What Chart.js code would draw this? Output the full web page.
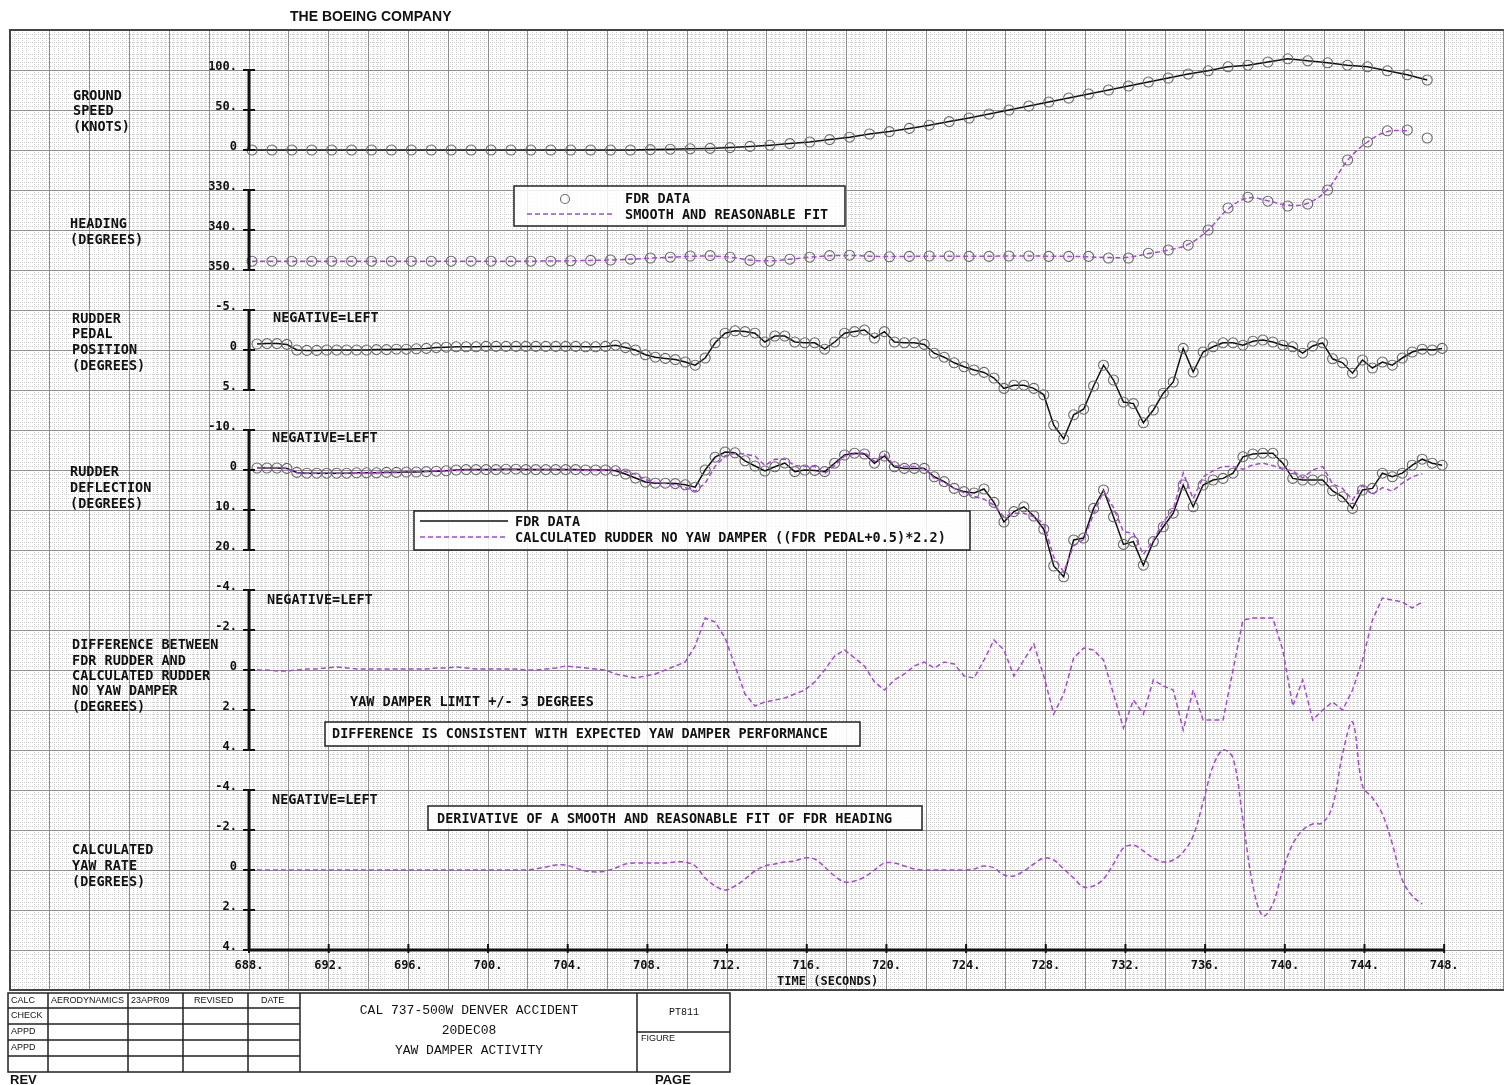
<!DOCTYPE html>
<html>
<head>
<meta charset="utf-8">
<title>CAL 737-500W Denver accident - yaw damper activity</title>
<script src="https://cdn.jsdelivr.net/npm/chart.js@4.4.1/dist/chart.umd.min.js"></script>
<style>
  html, body { margin: 0; padding: 0; background: #fff; }
  #wrap { position: relative; width: 1510px; height: 1085px; }
</style>
</head>
<body>
<div id="wrap"><canvas id="chart" width="1510" height="1085"></canvas></div>
<script>
// Sampling: FDR ground speed and heading every 1 s, rudder channels every 0.5 s
const SPEED_T0 = 688.15;
const HEADING_T0 = 688.15;
const RUDDER_T0 = 688.4;

// Ground speed (knots), FDR
const groundSpeed = [
  0, 0, 0, 0, 0, 0, 0, 0, 0, 0, 0, 0, 0, 0, 0, 0, 0, 0, 0, 0,
  0.5, 1, 1.5, 2, 3, 4.5, 6, 8, 10, 13, 16, 20, 23, 27, 31, 35.5,
  40, 45, 50, 55, 60, 65, 70, 75, 80, 85, 90, 95, 99, 104, 106, 110,
  114, 111.5, 109, 106, 104, 99, 94, 87.5
];

// Heading (degrees), FDR points and smooth fit
const headingFdr = [
  347.8, 347.8, 347.8, 347.8, 347.8, 347.8, 347.8, 347.8, 347.8, 347.8,
  347.8, 347.8, 347.8, 347.8, 347.8, 347.8, 347.7, 347.6, 347.5, 347.3,
  347.0, 346.8, 346.5, 346.4, 346.8, 347.6, 347.8, 347.3, 346.8, 346.4,
  346.3, 346.6, 346.7, 346.6, 346.5, 346.5, 346.6, 346.6, 346.5, 346.5,
  346.6, 346.6, 346.6, 347.0, 347.0, 345.8, 345.0, 343.8, 340.0, 334.5,
  331.8, 332.8, 334.0, 333.5, 330.0, 322.5, 318.0, 315.2, 315.0, 317.0
];
const headingFit = [
  347.8, 347.8, 347.8, 347.8, 347.8, 347.8, 347.8, 347.8, 347.8, 347.8,
  347.8, 347.8, 347.8, 347.8, 347.8, 347.75, 347.7, 347.6, 347.5, 347.3,
  347.05, 346.8, 346.6, 346.5, 346.8, 347.5, 347.7, 347.3, 346.8, 346.45,
  346.35, 346.55, 346.65, 346.6, 346.55, 346.55, 346.55, 346.55, 346.5, 346.5,
  346.55, 346.6, 346.7, 346.9, 346.8, 345.9, 345.0, 343.6, 340.0, 334.8,
  332.0, 332.7, 333.8, 333.3, 329.8, 322.6, 318.0, 315.4, 315.2
];

// Rudder pedal position (degrees), FDR
const rudderPedal = [
  -0.75, -0.8, -0.8, -0.7, 0.0, 0.05, 0.05, 0.0, 0.0, 0.0,
  0.0, 0.0, -0.05, -0.05, -0.1, -0.1, -0.15, -0.2, -0.3, -0.35,
  -0.4, -0.4, -0.4, -0.45, -0.45, -0.45, -0.45, -0.45, -0.45, -0.45,
  -0.45, -0.45, -0.45, -0.4, -0.4, -0.45, -0.6, -0.3, 0.0, 0.6,
  0.9, 1.05, 1.2, 1.5, 1.9, 1.0, -0.9, -2.1, -2.4, -2.3,
  -2.1, -1.0, -1.75, -1.75, -1.0, -0.9, -0.9, -0.1, -1.0, -2.1,
  -2.3, -2.5, -1.5, -2.3, -1.0, -0.9, -0.9, -0.7, 0.4, 0.9,
  1.6, 2.1, 2.5, 2.8, 3.5, 4.8, 4.4, 4.4, 4.8, 5.6,
  9.4, 11.1, 8.1, 7.4, 4.5, 1.9, 3.75, 6.5, 6.7, 9.1,
  7.5, 5.4, 4.0, -0.2, 2.75, 0.25, -0.4, -0.9, -0.9, -0.6,
  -1.1, -1.25, -1.0, -0.6, -0.4, 0.4, -0.5, -0.9, 1.1, 1.6,
  2.9, 1.25, 2.25, 1.5, 1.9, 1.0, 0.25, -0.1, 0.0, -0.2
];

// Rudder deflection (degrees), FDR and calculated with no yaw damper
const rudderFdr = [
  -0.5, -0.5, -0.5, -0.4, 0.6, 0.8, 0.8, 0.8, 0.8, 0.8,
  0.7, 0.7, 0.7, 0.6, 0.6, 0.5, 0.5, 0.4, 0.3, 0.2,
  0.0, -0.1, -0.1, -0.1, -0.1, -0.2, -0.2, -0.1, -0.1, -0.1,
  -0.1, -0.1, -0.1, 0.0, 0.0, 0.0, 0.2, 1.0, 2.0, 3.0,
  3.3, 3.3, 3.4, 3.7, 4.3, 0.0, -3.2, -4.5, -4.3, -2.3,
  -1.0, 0.25, -0.8, -1.75, 0.4, 0.0, 0.1, 0.4, -1.7, -3.75,
  -4.2, -4.0, -1.7, -3.5, -0.8, -0.4, -0.4, -0.4, 1.7, 2.9,
  4.6, 5.4, 5.75, 4.75, 8.1, 13.0, 10.4, 9.2, 11.5, 14.8,
  24.0, 26.7, 17.5, 17.0, 9.6, 5.0, 11.7, 18.6, 17.9, 23.8,
  17.9, 14.2, 10.8, 3.75, 9.2, 3.75, 2.5, 2.1, 0.8, -3.3,
  -4.0, -4.2, -4.2, -1.7, 2.1, 2.5, 2.5, 2.5, 5.2, 6.7,
  9.6, 5.0, 4.6, 0.8, 1.7, 0.8, -1.2, -2.7, -1.7, -1.2
];
const rudderCalc = [
  -0.5, -0.55, -0.55, -0.4, 0.7, 0.8, 0.8, 0.8, 0.8, 0.8,
  0.7, 0.6, 0.6, 0.5, 0.5, 0.4, 0.4, 0.3, 0.2, 0.1,
  0.1, 0.0, 0.0, -0.1, -0.1, -0.1, -0.1, -0.2, -0.1, -0.1,
  -0.2, -0.1, 0.0, 0.1, 0.1, 0.1, -0.2, 0.4, 1.1, 2.4,
  3.1, 3.4, 3.7, 4.4, 5.3, 3.3, -0.9, -3.5, -4.2, -4.0,
  -3.5, -1.1, -2.7, -2.7, -1.1, -0.9, -0.9, 0.9, -1.1, -3.5,
  -4.0, -4.4, -2.2, -4.0, -1.1, -0.9, -0.9, -0.4, 2.0, 3.1,
  4.6, 5.7, 6.6, 7.3, 8.8, 11.7, 10.8, 10.8, 11.7, 13.4,
  21.8, 25.5, 18.9, 17.4, 11.0, 5.3, 9.4, 15.4, 15.8, 21.1,
  17.6, 13.0, 9.9, 0.7, 7.2, 1.7, 0.2, -0.9, -0.9, -0.2,
  -1.3, -1.7, -1.1, -0.2, 0.2, 2.0, 0.0, -0.9, 3.5, 4.6,
  7.5, 3.9, 6.1, 4.4, 5.3, 3.3, 1.7, 0.9
];

// Difference FDR rudder - calculated rudder (degrees)
const rudderDiff = [
  0.0, 0.0, 0.05, 0.05, 0.0, -0.05, -0.05, -0.1, -0.15, -0.1,
  -0.05, -0.05, -0.05, -0.05, -0.05, -0.05, -0.05, -0.05, -0.1, -0.1,
  -0.15, -0.1, -0.05, -0.05, -0.05, -0.05, -0.05, 0.0, 0.0, -0.05,
  -0.1, -0.2, -0.15, -0.1, -0.05, 0.0, 0.2, 0.3, 0.4, 0.3,
  0.2, 0.0, -0.2, -0.4, -1.2, -2.6, -2.4, -1.6, -0.2, 1.2,
  1.8, 1.6, 1.5, 1.4, 1.2, 1.0, 0.6, 0.0, -0.7, -1.0,
  -0.6, -0.2, 0.6, 1.0, 0.5, 0.2, -0.2, -0.4, -0.1, -0.4,
  -0.3, 0.3, 0.4, -0.5, -1.5, -1.0, 0.3, -0.5, -1.3, 0.3,
  2.2, 1.2, -0.6, -1.1, -1.0, -0.5, 1.2, 2.9, 1.5, 2.2,
  0.5, 0.8, 1.0, 3.0, 1.0, 2.5, 2.5, 2.5, 0.0, -2.5,
  -2.6, -2.6, -2.6, -1.0, 1.8, 0.5, 2.5, 2.0, 1.6, 2.0,
  1.0, -0.5, -2.5, -3.6, -3.5, -3.4, -3.1, -3.4
];

// Calculated yaw rate (deg/s), derivative of the heading fit
const yawRate = [
  0, 0, 0, 0, 0, 0, 0, 0, 0, 0,
  0, 0, 0, 0, 0, 0, 0, 0, 0, 0,
  0, 0, 0, 0, 0, 0, 0, 0, -0.05, -0.15,
  -0.25, -0.25, -0.1, 0.05, 0.1, 0.05, -0.1, -0.3, -0.35, -0.35,
  -0.35, -0.35, -0.4, -0.4, -0.2, 0.4, 0.8, 1.0, 0.8, 0.45,
  0.05, -0.2, -0.3, -0.4, -0.45, -0.6, -0.55, -0.15, 0.3, 0.6,
  0.55, 0.35, 0.0, -0.35, -0.35, -0.2, -0.05, 0.0, 0.0, 0.0,
  0.0, 0.0, -0.05, -0.2, -0.1, 0.25, 0.3, 0.05, -0.3, -0.6,
  -0.5, -0.05, 0.4, 0.85, 0.8, 0.45, -0.3, -1.1, -1.25, -0.95,
  -0.6, -0.4, -0.5, -0.9, -1.7, -3.4, -5.2, -6.0, -5.6, -2.5,
  0.8, 2.3, 1.7, 0.0, -1.3, -2.0, -2.3, -2.35, -3.2, -5.8,
  -7.4, -4.2, -3.6, -2.8, -1.3, 0.5, 1.3, 1.7
];

// Tick labels of each strip and of the time axis
const speedTicks = [0, 50, 100];
const speedLabels = ['0', '50.', '100.'];
const headingTicks = [330, 340, 350];
const headingLabels = ['330.', '340.', '350.'];
const pedalTicks = [-5, 0, 5];
const pedalLabels = ['-5.', '0', '5.'];
const deflTicks = [-10, 0, 10, 20];
const deflLabels = ['-10.', '0', '10.', '20.'];
const diffTicks = [-4, -2, 0, 2, 4];
const diffLabels = ['-4.', '-2.', '0', '2.', '4.'];
const yawTicks = [-4, -2, 0, 2, 4];
const yawLabels = ['-4.', '-2.', '0', '2.', '4.'];
const timeTicks = [688, 692, 696, 700, 704, 708, 712, 716, 720, 724, 728, 732, 736, 740, 744, 748];
const timeLabels = timeTicks.map(t => t + '.');

const PURPLE = '#a847d8';
const CIRCLE = '#6a6a6a';
const MONO = "'DejaVu Sans Mono', 'Liberation Mono', monospace";
const THIN = "'Liberation Mono', monospace";

function series(t0, dt, values) {
    return values.map((v, i) => ({ x: Math.round((t0 + dt * i) * 100) / 100, y: v }));
}

function fdrLine(data, axis) {
    return {
        data: data, yAxisID: axis, borderColor: '#111', borderWidth: 1.5,
        pointRadius: 5, pointBorderColor: CIRCLE, pointBorderWidth: 1.1,
        pointBackgroundColor: 'rgba(0,0,0,0)', tension: 0
    };
}

function dashed(data, axis, tension) {
    return {
        data: data, yAxisID: axis, borderColor: PURPLE, borderWidth: 1.5,
        borderDash: [5, 3], pointRadius: 0, tension: tension
    };
}

const datasets = [
    fdrLine(series(SPEED_T0, 1, groundSpeed), 'ySpd'),
    dashed(series(HEADING_T0, 1, headingFit), 'yHdg', 0.4),
    {
        data: series(HEADING_T0, 1, headingFdr), yAxisID: 'yHdg', showLine: false,
        pointRadius: 5, pointBorderColor: CIRCLE, pointBorderWidth: 1.1,
        pointBackgroundColor: 'rgba(0,0,0,0)'
    },
    fdrLine(series(RUDDER_T0, 0.5, rudderPedal), 'yPed'),
    dashed(series(RUDDER_T0, 0.5, rudderCalc), 'yDef', 0),
    fdrLine(series(RUDDER_T0, 0.5, rudderFdr), 'yDef'),
    dashed(series(RUDDER_T0, 0.5, rudderDiff), 'yDif', 0),
    dashed(series(RUDDER_T0, 0.5, yawRate), 'yYaw', 0.35)
];

// Strips share one plot area; each axis range is chosen so its ticks land on its own band
const strips = [
    { id: 'ySpd', ticks: speedTicks, labels: speedLabels },
    { id: 'yHdg', ticks: headingTicks, labels: headingLabels },
    { id: 'yPed', ticks: pedalTicks, labels: pedalLabels },
    { id: 'yDef', ticks: deflTicks, labels: deflLabels },
    { id: 'yDif', ticks: diffTicks, labels: diffLabels },
    { id: 'yYaw', ticks: yawTicks, labels: yawLabels }
];

function hiddenAxis(min, max, reverse) {
    return { type: 'linear', display: false, min: min, max: max, reverse: reverse };
}

function text(ctx, str, x, y, font, align) {
    ctx.font = font;
    ctx.textAlign = align || 'left';
    ctx.textBaseline = 'middle';
    ctx.fillText(str, x, y);
}

function box(ctx, x, y, w, h) {
    ctx.fillStyle = 'rgba(255,255,255,0.85)';
    ctx.fillRect(x, y, w, h);
    ctx.strokeStyle = '#222';
    ctx.lineWidth = 1.5;
    ctx.strokeRect(x, y, w, h);
    ctx.fillStyle = '#111';
}

// Fine dotted graph-paper grid under the major lines
const paperPlugin = {
    id: 'paper',
    beforeDraw(chart) {
        const { ctx, chartArea: a, scales } = chart;
        ctx.save();
        ctx.fillStyle = '#fff';
        ctx.fillRect(0, 0, chart.width, chart.height);
        ctx.strokeStyle = '#cdcdcd';
        ctx.lineWidth = 1;
        ctx.setLineDash([1, 1]);
        ctx.beginPath();
        for (let t = 676; t < 751; t += 2) {
            for (let j = 1; j < 10; j++) {
                if (j === 5) continue;
                const px = Math.round(scales.x.getPixelForValue(t + j * 0.2)) + 0.5;
                if (px > a.right) break;
                ctx.moveTo(px, a.top);
                ctx.lineTo(px, a.bottom);
            }
        }
        for (let r = 0; r < 24; r++) {
            for (let i = 1; i < 10; i++) {
                if (i === 5) continue;
                const py = Math.round(scales.ygrid.getPixelForValue(r + i * 0.1)) + 0.5;
                ctx.moveTo(a.left, py);
                ctx.lineTo(a.right, py);
            }
        }
        ctx.stroke();
        ctx.restore();
    }
};

// Axes, captions, legends and the drawing title block
const sheetPlugin = {
    id: 'sheet',
    afterDraw(chart) {
        const { ctx, chartArea: a, scales } = chart;
        const xs = scales.x;
        const x0 = xs.getPixelForValue(688);
        ctx.save();
        ctx.fillStyle = '#111';

        // frame of the graph paper
        ctx.strokeStyle = '#444';
        ctx.lineWidth = 2;
        ctx.beginPath();
        ctx.moveTo(a.right, a.top); ctx.lineTo(a.left, a.top);
        ctx.lineTo(a.left, a.bottom); ctx.lineTo(a.right, a.bottom);
        ctx.stroke();

        // strip axes
        const tickFont = 'bold 12px ' + MONO;
        ctx.strokeStyle = '#111';
        strips.forEach(s => {
            const sc = scales[s.id];
            const ys = s.ticks.map(v => sc.getPixelForValue(v));
            ctx.lineWidth = 3;
            ctx.beginPath();
            ctx.moveTo(x0, Math.min(...ys));
            ctx.lineTo(x0, Math.max(...ys));
            ctx.stroke();
            ctx.lineWidth = 2;
            ys.forEach((py, i) => {
                ctx.beginPath();
                ctx.moveTo(x0 - 6, py); ctx.lineTo(x0 + 6, py);
                ctx.stroke();
                text(ctx, s.labels[i], x0 - 12, py - 3, tickFont, 'right');
            });
        });

        // time axis
        const yAx = scales.yYaw.getPixelForValue(4);
        ctx.lineWidth = 3;
        ctx.beginPath();
        ctx.moveTo(x0, yAx); ctx.lineTo(xs.getPixelForValue(748), yAx);
        ctx.stroke();
        ctx.lineWidth = 2;
        timeTicks.forEach((t, i) => {
            const px = xs.getPixelForValue(t);
            ctx.beginPath();
            ctx.moveTo(px, yAx - 6); ctx.lineTo(px, yAx + 3);
            ctx.stroke();
            text(ctx, timeLabels[i], px, yAx + 16, tickFont, 'center');
        });
        text(ctx, 'TIME (SECONDS)', xs.getPixelForValue(717.05), yAx + 32, tickFont, 'center');

        // strip captions
        const cap = 'bold 13.5px ' + MONO;
        [['GROUND', 73, 96], ['SPEED', 73, 111], ['(KNOTS)', 73, 127],
         ['HEADING', 70, 224], ['(DEGREES)', 70, 240],
         ['RUDDER', 72, 319], ['PEDAL', 72, 334], ['POSITION', 72, 350], ['(DEGREES)', 72, 366],
         ['RUDDER', 70, 472], ['DEFLECTION', 70, 488], ['(DEGREES)', 70, 504],
         ['DIFFERENCE BETWEEN', 72, 645], ['FDR RUDDER AND', 72, 661], ['CALCULATED RUDDER', 72, 676],
         ['NO YAW DAMPER', 72, 691], ['(DEGREES)', 72, 707],
         ['CALCULATED', 72, 850], ['YAW RATE', 72, 866], ['(DEGREES)', 72, 882],
         ['NEGATIVE=LEFT', 273, 318], ['NEGATIVE=LEFT', 272, 438],
         ['NEGATIVE=LEFT', 267, 600], ['NEGATIVE=LEFT', 272, 800],
         ['YAW DAMPER LIMIT +/- 3 DEGREES', 350, 702]
        ].forEach(c => text(ctx, c[0], c[1], c[2], cap));

        // heading legend
        box(ctx, 514, 186, 331, 40);
        ctx.strokeStyle = CIRCLE; ctx.lineWidth = 1.1;
        ctx.beginPath(); ctx.arc(565, 199, 4.5, 0, Math.PI * 2); ctx.stroke();
        ctx.strokeStyle = PURPLE; ctx.lineWidth = 1.5; ctx.setLineDash([5, 3]);
        ctx.beginPath(); ctx.moveTo(527, 214); ctx.lineTo(614, 214); ctx.stroke();
        ctx.setLineDash([]);
        text(ctx, 'FDR DATA', 625, 199, cap);
        text(ctx, 'SMOOTH AND REASONABLE FIT', 625, 215, cap);

        // deflection legend
        box(ctx, 414, 511, 556, 39);
        ctx.strokeStyle = '#111'; ctx.lineWidth = 1.5;
        ctx.beginPath(); ctx.moveTo(420, 521); ctx.lineTo(508, 521); ctx.stroke();
        ctx.strokeStyle = PURPLE; ctx.setLineDash([5, 3]);
        ctx.beginPath(); ctx.moveTo(420, 537); ctx.lineTo(508, 537); ctx.stroke();
        ctx.setLineDash([]);
        text(ctx, 'FDR DATA', 515, 522, cap);
        text(ctx, 'CALCULATED RUDDER NO YAW DAMPER ((FDR PEDAL+0.5)*2.2)', 515, 538, cap);

        box(ctx, 325, 722, 535, 24);
        text(ctx, 'DIFFERENCE IS CONSISTENT WITH EXPECTED YAW DAMPER PERFORMANCE', 332, 734, cap);
        box(ctx, 428, 806, 494, 24);
        text(ctx, 'DERIVATIVE OF A SMOOTH AND REASONABLE FIT OF FDR HEADING', 437, 819, cap);

        // page heading
        text(ctx, 'THE BOEING COMPANY', 290, 17, "bold 14px 'Liberation Sans', Arial, sans-serif");

        // title block
        ctx.strokeStyle = '#222'; ctx.lineWidth = 1.5;
        ctx.strokeRect(8, 993, 722, 79);
        ctx.beginPath();
        [48, 128, 183, 248, 300, 637].forEach(x => { ctx.moveTo(x, 993); ctx.lineTo(x, 1072); });
        [1008, 1024, 1040, 1056].forEach(y => { ctx.moveTo(8, y); ctx.lineTo(300, y); });
        ctx.moveTo(637, 1032); ctx.lineTo(730, 1032);
        ctx.stroke();
        const small = "9px 'Liberation Sans', Arial, sans-serif";
        [['CALC', 11, 1001], ['AERODYNAMICS', 51, 1001], ['23APR09', 131, 1001],
         ['REVISED', 194, 1001], ['DATE', 261, 1001],
         ['CHECK', 11, 1016], ['APPD', 11, 1032], ['APPD', 11, 1048],
         ['FIGURE', 641, 1039]
        ].forEach(c => text(ctx, c[0], c[1], c[2], small));
        const blk = '13px ' + THIN;
        text(ctx, 'CAL 737-500W DENVER ACCIDENT', 469, 1011, blk, 'center');
        text(ctx, '20DEC08', 469, 1031, blk, 'center');
        text(ctx, 'YAW DAMPER ACTIVITY', 469, 1051, blk, 'center');
        text(ctx, 'PT811', 684, 1012, '10px ' + THIN, 'center');
        const bold = "bold 13px 'Liberation Sans', Arial, sans-serif";
        text(ctx, 'REV', 10, 1080, bold);
        text(ctx, 'PAGE', 655, 1080, bold);
        ctx.restore();
    }
};

const gridColor = '#8e8e8e';

new Chart(document.getElementById('chart'), {
    type: 'line',
    data: { datasets: datasets },
    options: {
        responsive: false,
        animation: false,
        devicePixelRatio: 1,
        layout: { padding: { left: 10, top: 30, right: 0, bottom: 95 } },
        plugins: { legend: { display: false }, tooltip: { enabled: false } },
        elements: { line: { fill: false } },
        scales: {
            x: {
                type: 'linear', min: 676, max: 751,
                ticks: { stepSize: 2, display: false },
                grid: { color: gridColor, lineWidth: 1, drawTicks: false },
                border: { display: false },
                afterFit: s => { s.height = 0; }
            },
            ygrid: {
                type: 'linear', position: 'left', min: 0, max: 24, reverse: true,
                ticks: { stepSize: 1, display: false },
                grid: { color: gridColor, lineWidth: 1, drawTicks: false },
                border: { display: false },
                afterFit: s => { s.width = 0; }
            },
            ySpd: hiddenAxis(-1050, 150, false),
            yHdg: hiddenAxis(290, 530, true),
            yPed: hiddenAxis(-40, 80, true),
            yDef: hiddenAxis(-110, 130, true),
            yDif: hiddenAxis(-32, 16, true),
            yYaw: hiddenAxis(-42, 6, true)
        }
    },
    plugins: [paperPlugin, sheetPlugin]
});
</script>
</body>
</html>
